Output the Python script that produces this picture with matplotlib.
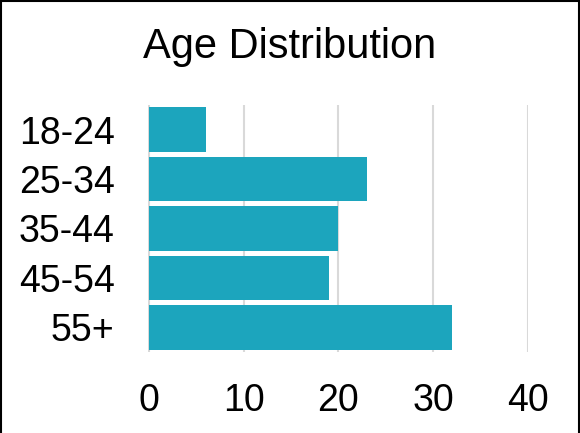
import matplotlib.pyplot as plt
from matplotlib.patches import Rectangle

# Données : répartition par tranche d'âge
age_groups = ['18-24', '25-34', '35-44', '45-54', '55+']
counts = [6, 23, 20, 19, 32]
x_ticks = [0, 10, 20, 30, 40]

bar_color = '#1ca5bd'
grid_color = '#d9d9d9'

plt.rcParams['font.family'] = ['Liberation Sans', 'DejaVu Sans']

fig = plt.figure(figsize=(5.8, 4.33), dpi=100)
ax = fig.add_axes([148 / 580, 81 / 433, 380 / 580, 247 / 433])

ax.barh(age_groups, counts, height=0.9, color=bar_color, zorder=2)
ax.set_ylim(4.5, -0.5)
ax.set_xlim(-0.1, 40)
ax.set_xticks(x_ticks)

# Grille verticale grise, pas de cadre autour des axes
ax.grid(axis='x', color=grid_color, linewidth=1.5, zorder=0)
for side in ax.spines.values():
    side.set_visible(False)
ax.tick_params(axis='both', length=0, labelsize=27)
ax.tick_params(axis='y', pad=24)
ax.tick_params(axis='x', pad=22)

# Titre centré sur la figure
fig.text(0.5, 1 - 47 / 433, 'Age Distribution', fontsize=30,
         ha='center', va='center')

# Bordure noire (gauche, haut, droite)
fig.patches.append(Rectangle((1 / 580, -0.1), 577.5 / 580, 1.1 - 1 / 433,
                             transform=fig.transFigure, fill=False,
                             edgecolor='black', linewidth=1.5))

fig.savefig('out.png', dpi=100, facecolor='white')
